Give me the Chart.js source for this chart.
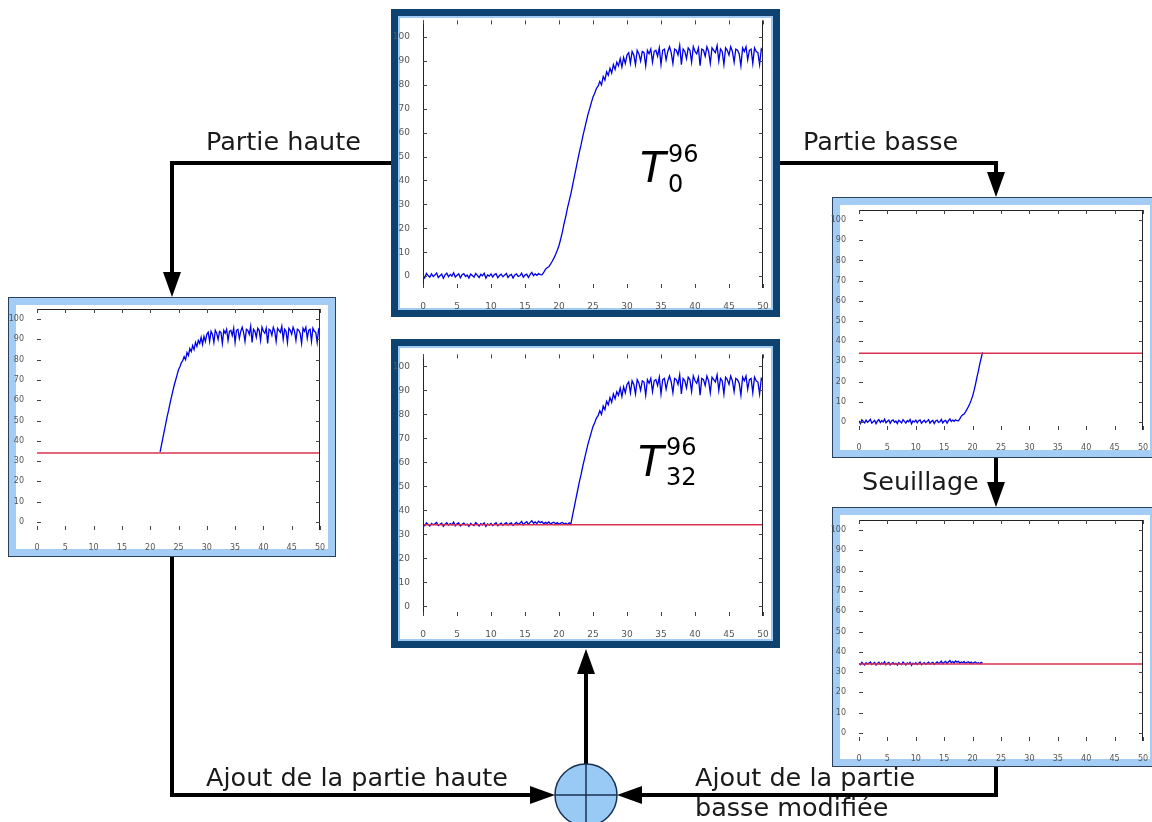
<!DOCTYPE html>
<html>
<head>
<meta charset="utf-8">
<script src="https://cdn.jsdelivr.net/npm/chart.js@4.4.0/dist/chart.umd.min.js"></script>
<style>
  body { margin: 0; background: #fff; }
  #page { position: relative; width: 1152px; height: 822px; overflow: hidden; background: #fff; }
  .frame { position: absolute; box-sizing: border-box; background: #fff; }
  .frame.big { border: 7px solid #0e4271; box-shadow: inset 0 0 0 2px #9fcaf2; }
  .frame.small { border: 1px solid #2a3f5a; box-shadow: inset 0 0 0 7px #a3cdf4; }
  canvas { position: absolute; }
  svg { position: absolute; left: 0; top: 0; }
  .lbl { font-family: "DejaVu Sans", sans-serif; font-size: 25.5px; fill: #1a1a1a; }
  .tname { font-family: "DejaVu Sans", sans-serif; fill: #000; }
</style>
</head>
<body>
<div id="page">
  <div class="frame big" style="left:391px;top:9px;width:389px;height:308px"></div>
  <div class="frame big" style="left:391px;top:339px;width:389px;height:309px"></div>
  <div class="frame small" style="left:8px;top:297px;width:328px;height:260px"></div>
  <div class="frame small" style="left:832px;top:197px;width:326px;height:261px"></div>
  <div class="frame small" style="left:832px;top:507px;width:326px;height:260px"></div>

  <canvas id="c-top"></canvas>
  <canvas id="c-bottom"></canvas>
  <canvas id="c-left"></canvas>
  <canvas id="c-rtop"></canvas>
  <canvas id="c-rbottom"></canvas>

  <svg width="1152" height="822">
    <g stroke="#000" stroke-width="4" fill="none">
      <polyline points="391,163 172,163 172,274"/>
      <polyline points="780,163 996,163 996,174"/>
      <polyline points="996,458 996,484"/>
      <polyline points="172,557 172,795 533,795"/>
      <polyline points="996,767 996,795 640,795"/>
      <polyline points="586,764 586,672"/>
    </g>
    <g fill="#000">
      <polygon points="172,297 163,272 181,272"/>
      <polygon points="996,197 987,172 1005,172"/>
      <polygon points="996,507 987,482 1005,482"/>
      <polygon points="555,795 530,786 530,804"/>
      <polygon points="617,795 642,786 642,804"/>
      <polygon points="586,649 577,674 595,674"/>
    </g>
    <circle cx="586" cy="795" r="31" fill="#99c9f5" stroke="#1a3050" stroke-width="1.5"/>
    <line x1="555" y1="795" x2="617" y2="795" stroke="#1a3050" stroke-width="1.5"/>
    <line x1="586" y1="764" x2="586" y2="826" stroke="#1a3050" stroke-width="1.5"/>

    <text class="lbl" x="206" y="150">Partie haute</text>
    <text class="lbl" x="803" y="150">Partie basse</text>
    <text class="lbl" x="862" y="490">Seuillage</text>
    <text class="lbl" x="206" y="786">Ajout de la partie haute</text>
    <text class="lbl" x="695" y="786">Ajout de la partie</text>
    <text class="lbl" x="695" y="816">basse modifiée</text>

    <text class="tname" x="640" y="182" font-size="42" font-style="italic">T</text>
    <text class="tname" x="668" y="162" font-size="24">96</text>
    <text class="tname" x="668" y="192" font-size="24">0</text>
    <text class="tname" x="638" y="476" font-size="42" font-style="italic">T</text>
    <text class="tname" x="666" y="455" font-size="24">96</text>
    <text class="tname" x="666" y="485" font-size="24">32</text>
  </svg>
</div>

<script>
// sample spacing of the measured curve (x axis units)
const sampleStep = 0.25;
const threshold = 34;
const xTicks = [0, 5, 10, 15, 20, 25, 30, 35, 40, 45, 50];
const yTicks = [0, 10, 20, 30, 40, 50, 60, 70, 80, 90, 100];

// original curve T0^96
const signal = [
    0.6, -0.8, 1.1, 0.2, -0.5, 0.9, -0.2, 0.4, 1.3, -0.6,
    0.1, 0.8, -0.9, 0.5, 1.2, -0.3, 0.7, 0.0, 1.4, -0.4,
    0.3, 0.9, -0.7, 0.6, 1.0, -0.2, 0.4, -0.8, 0.8, 0.2,
    -0.5, 1.1, 0.3, -0.6, 0.7, 0.1, 1.2, -0.9, 0.5, 0.0,
    0.9, -0.4, 0.6, 1.0, -0.7, 0.2, 0.8, -0.3, 0.4, 1.1,
    -0.6, 0.3, 0.7, -0.8, 0.5, 0.9, -0.2, 0.1, 1.2, -0.5,
    0.4, 0.8, -0.6, 0.6, 1.5, 0.2, 0.9, 0.3, 1.0, 0.6,
    0.5,
    1.5, 2.8, 3.5, 3.9, 5.0, 6.2, 7.5, 9.0, 10.8, 12.8,
    15.5, 18.5, 22.0, 25.0, 28.5, 31.5, 34.5, 38.0, 41.5, 45.0,
    48.5, 52.0, 55.0, 58.5, 61.5, 64.5, 67.5, 70.0, 72.5, 75.0,
    76.5, 78.5, 79.5, 81.5, 80.0, 83.5, 82.0, 85.5, 84.0, 87.0,
    85.0, 88.5, 86.5, 89.5, 88.0, 91.0, 87.5, 91.5, 89.0, 92.5,
    93.5, 89.0, 94.0, 92.5, 88.5, 94.5, 93.0, 90.0, 94.0, 93.5,
    88.0, 94.5, 93.0, 95.0, 89.5, 94.0, 94.5, 92.0, 95.5, 88.5,
    94.5, 95.0, 90.5, 94.0, 96.0, 93.5, 89.0, 95.0, 94.5, 92.5,
    96.5, 88.5, 95.0, 94.0, 91.0, 95.5, 94.5, 89.5, 96.0, 94.0,
    93.0, 95.5, 88.0, 95.0, 94.5, 92.0, 96.0, 94.0, 89.0, 95.5,
    94.5, 93.5, 96.5, 90.0, 95.0, 94.0, 88.5, 95.5, 94.5, 92.5,
    96.0, 94.0, 89.5, 95.0, 94.5, 93.0, 88.0, 95.5, 94.0, 96.0,
    90.5, 94.5, 95.0, 89.0, 95.5, 94.0, 93.5, 88.5, 95.0, 94.0
];

// lower part after thresholding (right bottom chart), x 0 .. 21.75
const lowShifted = [
    34.3, 33.6, 34.8, 34.1, 33.5, 34.6, 34.0, 34.4, 35.0, 33.7,
    34.2, 34.7, 33.4, 34.3, 34.9, 33.8, 34.5, 34.0, 35.1, 33.6,
    34.4, 34.8, 33.5, 34.2, 34.7, 33.9, 34.3, 33.4, 34.6, 34.1,
    33.7, 34.9, 34.2, 33.5, 34.5, 34.0, 34.8, 33.3, 34.4, 33.9,
    34.6, 33.7, 34.3, 34.9, 33.6, 34.2, 34.7, 33.8, 34.4, 34.9,
    33.9, 34.5, 34.8, 33.7, 34.4, 35.0, 34.2, 34.6, 35.4, 34.0,
    34.8, 35.3, 34.2, 35.0, 35.7, 34.6, 35.2, 34.5, 35.5, 34.9,
    35.3, 34.4, 35.0, 34.6, 35.2, 34.3, 34.8, 35.1, 34.4, 34.9,
    34.2, 34.7, 35.0, 34.3, 34.6, 34.1, 34.8, 34.4
];

// first sample of the upper part (value crosses the threshold)
const crossIndex = 87;

function points(values, from, to) {
    const out = [];
    for (let i = from; i <= to; i++) out.push({ x: i * sampleStep, y: values[i] });
    return out;
}

const blueLine = data => ({ data: data, borderColor: '#0000e6', borderWidth: 1.3, pointRadius: 0 });
const redLine = () => ({
    data: [{ x: 0, y: threshold }, { x: 50, y: threshold }],
    borderColor: '#dc3052', borderWidth: 1.4, pointRadius: 0
});

// inward ticks and the visible box sides, matlab style
const matlabAxes = {
    id: 'matlabAxes',
    afterDraw(chart, args, opts) {
        const ctx = chart.ctx;
        const a = chart.chartArea;
        const xs = chart.scales.x, ys = chart.scales.y;
        ctx.save();
        ctx.strokeStyle = '#222';
        ctx.lineWidth = 1;
        ctx.beginPath();
        (opts.sides || []).forEach(s => {
            if (s === 'left') { ctx.moveTo(a.left + 0.5, a.top); ctx.lineTo(a.left + 0.5, a.bottom); }
            if (s === 'right') { ctx.moveTo(a.right - 0.5, a.top); ctx.lineTo(a.right - 0.5, a.bottom); }
            if (s === 'top') { ctx.moveTo(a.left, a.top + 0.5); ctx.lineTo(a.right, a.top + 0.5); }
            if (s === 'bottom') { ctx.moveTo(a.left, a.bottom - 0.5); ctx.lineTo(a.right, a.bottom - 0.5); }
        });
        ctx.stroke();
        ctx.strokeStyle = '#444';
        ctx.beginPath();
        xTicks.forEach(v => {
            const px = Math.round(xs.getPixelForValue(v)) + 0.5;
            ctx.moveTo(px, a.top); ctx.lineTo(px, a.top + 4);
            ctx.moveTo(px, a.bottom); ctx.lineTo(px, a.bottom - 4);
        });
        yTicks.forEach(v => {
            const py = Math.round(ys.getPixelForValue(v)) + 0.5;
            ctx.moveTo(a.left, py); ctx.lineTo(a.left + 4, py);
            ctx.moveTo(a.right, py); ctx.lineTo(a.right - 4, py);
        });
        ctx.stroke();
        ctx.restore();
    }
};

function makeChart(id, plot, yMin, yMax, datasets, sides, fontSize) {
    const pad = { l: 30, t: 10, r: 14, b: 22 };
    const canvas = document.getElementById(id);
    canvas.width = (plot.r - plot.l) + pad.l + pad.r;
    canvas.height = (plot.b - plot.t) + pad.t + pad.b;
    canvas.style.left = (plot.l - pad.l) + 'px';
    canvas.style.top = (plot.t - pad.t) + 'px';
    const tickFont = { family: 'DejaVu Sans', size: fontSize };
    return new Chart(canvas.getContext('2d'), {
        type: 'line',
        data: { datasets: datasets },
        plugins: [matlabAxes],
        options: {
            responsive: false,
            animation: false,
            devicePixelRatio: 1,
            layout: { padding: { left: 0, top: pad.t, right: pad.r, bottom: 0 } },
            elements: { line: { tension: 0 } },
            plugins: { legend: { display: false }, tooltip: { enabled: false }, matlabAxes: { sides: sides } },
            scales: {
                x: {
                    type: 'linear', min: 0, max: 50,
                    grid: { display: false }, border: { display: false },
                    afterBuildTicks: s => { s.ticks = xTicks.map(v => ({ value: v })); },
                    afterFit: s => { s.height = pad.b; },
                    ticks: { font: tickFont, color: '#555', padding: 5, maxRotation: 0, autoSkip: false }
                },
                y: {
                    type: 'linear', min: yMin, max: yMax,
                    grid: { display: false }, border: { display: false },
                    afterBuildTicks: s => { s.ticks = yTicks.map(v => ({ value: v })); },
                    afterFit: s => { s.width = pad.l; },
                    ticks: { font: tickFont, color: '#555', padding: 5, autoSkip: false }
                }
            }
        }
    });
}

const lowerPart = points(signal, 0, crossIndex);
const upperPart = points(signal, crossIndex, signal.length - 1);
const rebuilt = points(lowShifted, 0, lowShifted.length - 1)
    .concat(points(signal, lowShifted.length, signal.length - 1));

makeChart('c-top', { l: 423, t: 20, r: 763, b: 288 }, -5, 107,
    [blueLine(points(signal, 0, signal.length - 1))], ['left', 'right'], 9);
makeChart('c-bottom', { l: 423, t: 354, r: 763, b: 616 }, -4, 105,
    [redLine(), blueLine(rebuilt)], ['left', 'right'], 9);
makeChart('c-left', { l: 37, t: 309, r: 320, b: 530 }, -4, 105,
    [redLine(), blueLine(upperPart)], ['top', 'right'], 8);
makeChart('c-rtop', { l: 859, t: 210, r: 1143, b: 430 }, -4, 105,
    [redLine(), blueLine(lowerPart)], ['top', 'right'], 8);
makeChart('c-rbottom', { l: 859, t: 520, r: 1143, b: 741 }, -4, 105,
    [redLine(), blueLine(points(lowShifted, 0, lowShifted.length - 1))], ['top', 'right'], 8);
</script>
</body>
</html>
